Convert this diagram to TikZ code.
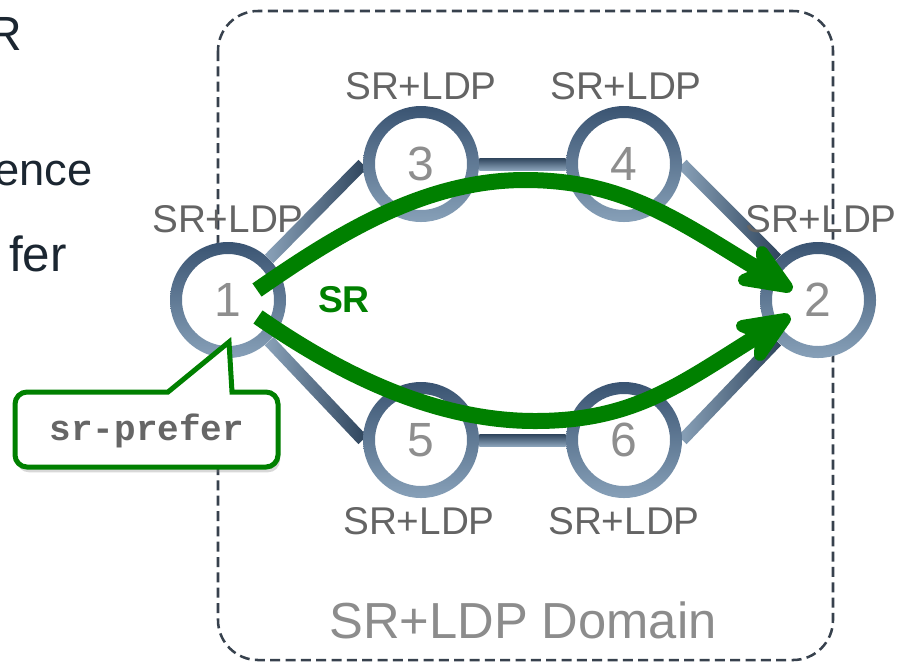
\documentclass[tikz,border=0pt]{standalone}
\usepackage{fontspec}
\setmainfont{Liberation Sans}
\newfontfamily\calloutfont{Liberation Mono}
\usetikzlibrary{calc,shadows}
\definecolor{ringtop}{HTML}{3A5472}
\definecolor{ringbot}{HTML}{87A0B8}
\definecolor{linkdark}{HTML}{2E445C}
\definecolor{linklight}{HTML}{8AA2B9}
\definecolor{srgreen}{HTML}{008000}
\definecolor{lblgray}{HTML}{646464}
\definecolor{numgray}{HTML}{8E8E8E}
\definecolor{domgray}{HTML}{8C8C8C}
\definecolor{boxc}{HTML}{37414D}
\definecolor{txtdark}{HTML}{1B2631}
\definecolor{calgray}{HTML}{666666}
\newcommand\linkbar[3]{\shade[#3] ($(#1)!4.5pt!90:(#2)$) -- ($(#1)!4.5pt!-90:(#2)$) -- ($(#2)!4.5pt!90:(#1)$) -- ($(#2)!4.5pt!-90:(#1)$) -- cycle;}
\begin{document}
\begin{tikzpicture}[x=0.75pt,y=-0.75pt,
  router/.style={circle, fill=white, minimum size=87pt, inner sep=0pt, text=numgray, font=\fontsize{36}{36}\selectfont},
  lbl/.style={text=lblgray, font=\fontsize{29}{29}\selectfont, inner sep=0pt, anchor=base},
  diag/.style={left color=linklight, right color=linkdark},
  horiz/.style={top color=linkdark, bottom color=linklight},
  ring/.style={top color=ringtop, bottom color=ringbot, even odd rule},
  srpath/.style={draw=srgreen, line width=12pt},
  srhead/.style={draw=srgreen, fill=srgreen, line width=9pt, line join=round},
  domainbox/.style={draw=boxc, line width=1.9pt, dash pattern=on 7.5pt off 4pt, rounded corners=30pt},
  sidetext/.style={text=txtdark, inner sep=0pt, anchor=base east},
]
\clip (0,0) rectangle (898,662);
\fill[white] (0,0) rectangle (898,662);
% left text fragments
\node[sidetext, font=\fontsize{36}{36}\selectfont] (t1) at (22,50) {R};
\node[sidetext, font=\fontsize{34}{34}\selectfont] (t2) at (93,185) {ence};
\node[sidetext, font=\fontsize{37}{37}\selectfont] (t3) at (67,271) {fer};
% domain box
\draw[domainbox] (218,11) rectangle (833,660);
% routers
\node[router] (n1) at (228,300) {1};
\node[router] (n2) at (818,300) {2};
\node[router] (n3) at (421,164) {3};
\node[router] (n4) at (624,164) {4};
\node[router] (n5) at (421,440) {5};
\node[router] (n6) at (624,440) {6};
% links
\linkbar{n1.north east}{n3.west}{diag}
\linkbar{n1.south east}{n5.west}{diag}
\linkbar{n4.east}{n2.north west}{diag}
\linkbar{n6.east}{n2.south west}{diag}
\linkbar{n3.east}{n4.west}{horiz}
\linkbar{n5.east}{n6.west}{horiz}
% rings
\foreach \n in {n1,n2,n3,n4,n5,n6}
  \shade[ring] (\n.center) circle[radius=43.5pt] (\n.center) circle[radius=34.5pt];
% labels
\node[lbl] (l1) at (228,232) {SR+LDP};
\node[lbl] (l2) at (821,232) {SR+LDP};
\node[lbl] (l3) at (421,99) {SR+LDP};
\node[lbl] (l4) at (626,99) {SR+LDP};
\node[lbl] (l5) at (419,534) {SR+LDP};
\node[lbl] (l6) at (624,534) {SR+LDP};
\node[font=\fontsize{38}{38}\selectfont, text=domgray, anchor=base] (dom) at (523,638) {SR+LDP Domain};
% SR paths with heads
\coordinate (uin) at ($(n2.center)+(-55,-28)$);
\coordinate (lin) at ($(n2.center)+(-57,34)$);
\draw[srpath] ($(n1.center)+(29,-10)$) .. controls (339,233) and (425,180) .. (525,180) .. controls (625,180) and (680,222) .. (uin);
\draw[srpath] ($(n1.center)+(30,17)$) .. controls (340,374) and (435,421) .. (535,421) .. controls (635,421) and (680,384) .. (lin);
\path[srhead] ($(n2.center)+(-31,-13)$) -- ($(n2.center)+(-74,-20)$) -- (uin) -- ($(n2.center)+(-56,-48)$) -- cycle;
\path[srhead] ($(n2.center)+(-33,19)$) -- ($(n2.center)+(-58,55)$) -- (lin) -- ($(n2.center)+(-76,26)$) -- cycle;
\node[font=\bfseries\fontsize{28}{28}\selectfont, text=srgreen] (srl) at (344,300) {SR};
% callout
\path[draw=srgreen, line width=3.75pt, fill=white, drop shadow={shadow xshift=1.5pt, shadow yshift=-4pt, opacity=0.3}]
  (90,392) -- (168,392) -- (229,342) -- (232,392) [rounded corners=9pt] -- (278,392) -- (278,467) -- (15,467) -- (15,392) -- cycle;
\node[font=\calloutfont\bfseries\fontsize{27}{27}\selectfont, text=calgray, anchor=base] (cal) at (147,440) {sr-prefer};
\end{tikzpicture}
\end{document}
